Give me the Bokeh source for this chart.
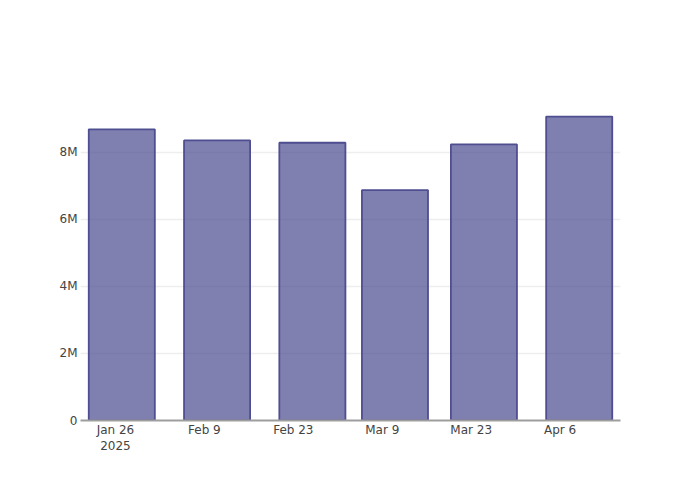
from datetime import datetime, timedelta
from bokeh.plotting import figure
from bokeh.models import Range1d, FixedTicker, DatetimeTickFormatter, CustomJSTickFormatter
from bokeh.embed import file_html
from bokeh.resources import INLINE

# Data
dates = [datetime(2025, 1, 27), datetime(2025, 2, 11), datetime(2025, 2, 26),
         datetime(2025, 3, 11), datetime(2025, 3, 25), datetime(2025, 4, 9)]
values = [8.68e6, 8.35e6, 8.28e6, 6.87e6, 8.23e6, 9.06e6]
tick_dates = [datetime(2025, 1, 26), datetime(2025, 2, 9), datetime(2025, 2, 23),
              datetime(2025, 3, 9), datetime(2025, 3, 23), datetime(2025, 4, 6)]
y_ticks = [0, 2e6, 4e6, 6e6, 8e6]

def ms(d):
    return (d - datetime(1970, 1, 1)).total_seconds() * 1000.0

FONT = "DejaVu Sans"
pad = timedelta(days=6.5)
p = figure(width=692, height=492, x_axis_type="datetime",
           output_backend="svg", toolbar_location=None,
           x_range=Range1d(dates[0] - pad, dates[-1] + pad),
           y_range=Range1d(0, 9.54e6),
           min_border_left=80, min_border_right=72,
           min_border_top=100, min_border_bottom=72)
p.outline_line_color = None
p.background_fill_color = "white"
p.border_fill_color = "white"

bar_w = 10.4 * 86400000
p.vbar(x=dates, top=values, width=bar_w, bottom=0,
       fill_color="#48488f", fill_alpha=0.7,
       line_color="#4e4e90", line_alpha=1.0, line_width=1.8)

# x axis
xa = p.xaxis[0]
xa.ticker = FixedTicker(ticks=[ms(d) for d in tick_dates])
xa.formatter = DatetimeTickFormatter(days="%b %-d", months="%b %-d", years="%b %-d",
                                     context="%Y", context_which="start",
                                     context_location="below")
xa.major_tick_in = 0
xa.major_tick_out = 0
xa.minor_tick_in = 0
xa.minor_tick_out = 0
xa.axis_line_color = "#9e9e9e"
xa.axis_line_width = 2
xa.major_label_standoff = 2
xa.major_label_text_font = FONT
xa.major_label_text_font_size = "12px"
xa.major_label_text_color = "#444444"

# y axis
ya = p.yaxis[0]
ya.ticker = FixedTicker(ticks=y_ticks)
ya.formatter = CustomJSTickFormatter(code="return tick == 0 ? '0' : (tick/1e6) + 'M';")
ya.axis_line_color = None
ya.major_tick_in = 0
ya.major_tick_out = 0
ya.minor_tick_in = 0
ya.minor_tick_out = 0
ya.major_label_standoff = 3
ya.major_label_text_font = FONT
ya.major_label_text_font_size = "12px"
ya.major_label_text_color = "#444444"

p.xgrid.grid_line_color = None
p.ygrid.grid_line_color = "#eeeeee"
p.ygrid.grid_line_width = 1.5

open("out.html", "w").write(file_html(p, INLINE))
